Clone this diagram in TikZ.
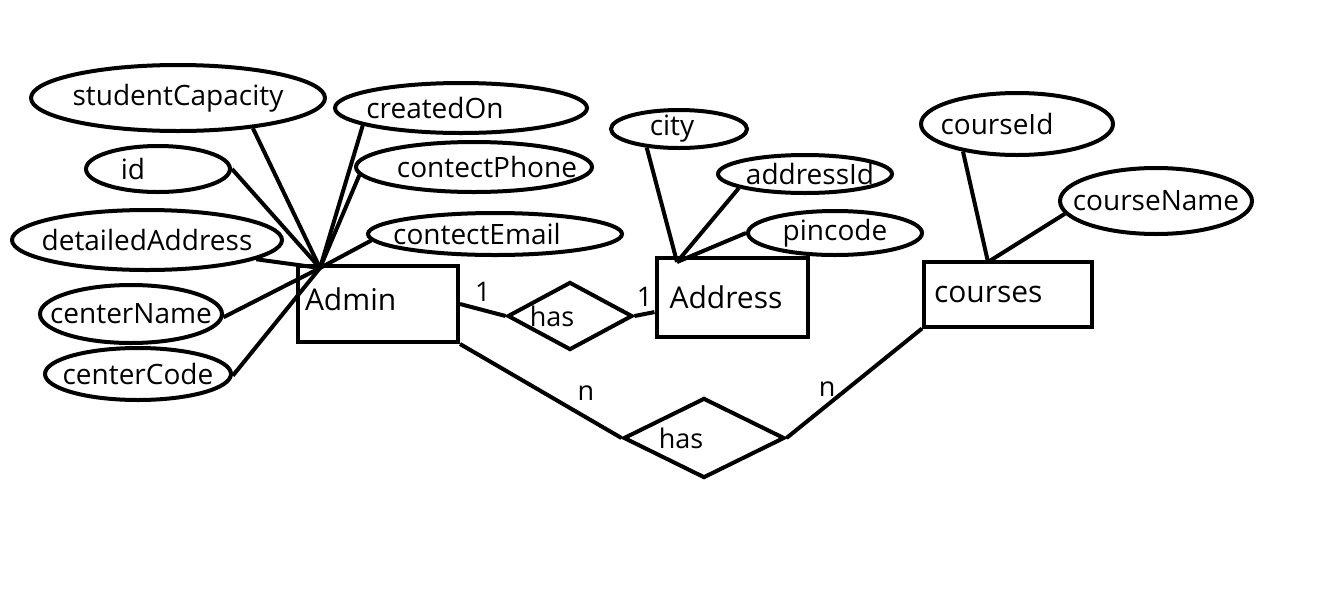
\documentclass[tikz,border=0pt]{standalone}
\usepackage{fontspec}
\setmainfont{Open Sans}
\usepackage{tikz}
\usetikzlibrary{shapes.geometric, positioning}

\tikzset{
  attr/.style={draw, ellipse, line width=4pt, inner sep=-20pt, font=\fontsize{28}{33}\selectfont},
  entity/.style={draw, rectangle, line width=4pt, font=\fontsize{30}{36}\selectfont},
  rel/.style={draw, diamond, line width=4pt, inner sep=-20pt, font=\fontsize{27}{32}\selectfont},
  link/.style={line width=4pt},
  card/.style={font=\fontsize{27}{32}\selectfont, inner sep=1pt}
}
% shift a label sideways inside its shape
\newcommand{\nudge}[2]{\hspace*{#1}#2}

\begin{document}
\begin{tikzpicture}[x=1pt, y=-1pt]
  \useasboundingbox (0,0) rectangle (1333,603);

  % entities
  \node[entity, minimum width=160pt, minimum height=76pt, text width=146pt, align=left] (admin) at (378,304) {\raisebox{10pt}{Admin}};
  \node[entity, minimum width=151pt, minimum height=79pt] (address) at (732,297) {\nudge{-12pt}{Address}};
  \node[entity, minimum width=168pt, minimum height=65pt, text width=148pt, align=left] (courses) at (1008,294) {courses};

  % relationships
  \node[rel, minimum width=125pt, minimum height=68pt] (hasaddr) at (570,316) {\nudge{-36pt}{has}};
  \node[rel, minimum width=161pt, minimum height=80pt] (hascourse) at (704,438) {\nudge{-46pt}{has}};

  % Admin attributes
  \node[attr, minimum width=294pt, minimum height=66pt] (capacity) at (178,98) {studentCapacity};
  \node[attr, minimum width=252pt, minimum height=50pt] (created) at (461,108) {\nudge{-52pt}{createdOn}};
  \node[attr, minimum width=144pt, minimum height=46pt] (adminid) at (158,169) {\nudge{-50pt}{id}};
  \node[attr, minimum width=236pt, minimum height=50pt] (phone) at (474,167) {\nudge{26pt}{contectPhone}};
  \node[attr, minimum width=270pt, minimum height=60pt] (detail) at (147,240) {detailedAddress};
  \node[attr, minimum width=254pt, minimum height=42pt] (email) at (495,234) {\nudge{-36pt}{contectEmail}};
  \node[attr, minimum width=182pt, minimum height=58pt] (cname) at (131,314) {centerName};
  \node[attr, minimum width=186pt, minimum height=52pt] (ccode) at (138,374) {centerCode};
  \coordinate (adminhub) at (320,268);

  % Address attributes
  \node[attr, minimum width=136pt, minimum height=38pt] (city) at (679,129) {\nudge{-14pt}{city}};
  \node[attr, minimum width=174pt, minimum height=38pt] (addrid) at (805,174) {\nudge{10pt}{addressId}};
  \node[attr, minimum width=174pt, minimum height=44pt] (pin) at (835,233) {pincode};
  \coordinate (addrhub) at (677,262);

  % courses attributes
  \node[attr, minimum width=192pt, minimum height=62pt] (cid) at (1017,124) {\nudge{-40pt}{courseId}};
  \node[attr, minimum width=192pt, minimum height=66pt] (cnamecourse) at (1156,201) {courseName};
  \coordinate (coursehub) at (988,262);

  \foreach \n/\a in {capacity/-22, created/190, adminid/0, phone/184, detail/-10, email/183, cname/-2, ccode/-1}
    \draw[link] (\n.\a) -- (adminhub);
  \foreach \n/\a in {city/210, addrid/192, pin/180}
    \draw[link] (\n.\a) -- (addrhub);
  \foreach \n/\a in {cid/207, cnamecourse/188}
    \draw[link] (\n.\a) -- (coursehub);

  % relationship links
  \draw[link] (admin.east) -- node[card, above=6pt] {1} (hasaddr.west);
  \draw[link] (hasaddr.east) -- node[card, above=5pt] {1} (address.191);
  \draw[link] (admin.south east) -- node[card, pos=0.78, above=14pt] {n} (hascourse.west);
  \draw[link] (hascourse.east) -- node[card, pos=0.3, above=6pt] {n} (courses.south west);
\end{tikzpicture}
\end{document}
